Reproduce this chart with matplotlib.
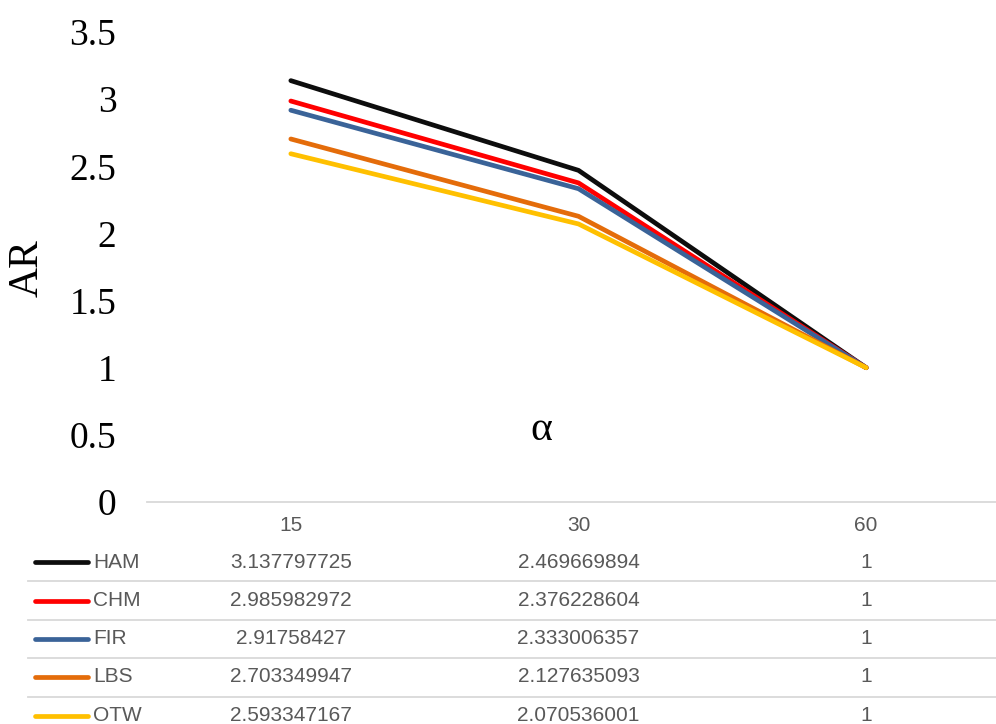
import matplotlib
matplotlib.use("Agg")
import matplotlib.pyplot as plt
from matplotlib.lines import Line2D
import matplotlib.transforms as mtransforms

categories = ["15", "30", "60"]
series_names = ["HAM", "CHM", "FIR", "LBS", "OTW"]
ham = [3.137797725, 2.469669894, 1]
chm = [2.985982972, 2.376228604, 1]
fir = [2.91758427, 2.333006357, 1]
lbs = [2.703349947, 2.127635093, 1]
otw = [2.593347167, 2.070536001, 1]
series_values = [ham, chm, fir, lbs, otw]
colors = ["#0d0d0d", "#ff0000", "#3a6398", "#e46c0a", "#ffc000"]
yticks = [0, 0.5, 1, 1.5, 2, 2.5, 3, 3.5]

W, H = 996, 724
fig = plt.figure(figsize=(W / 100, H / 100), dpi=100)

def fy(px):
    return 1 - px / H

def fx(px):
    return px / W

# axes: x from 147 to 1010 px, y from 502 (0) to 32 (3.5)
ax = fig.add_axes([fx(147), fy(502), fx(1010 - 147), (502 - 32) / H])
ax.set_xlim(-0.5, len(categories) - 0.5)
ax.set_ylim(0, 3.5)
xs = list(range(len(categories)))

# draw in reverse so HAM on top? Excel draws first series first; last (OTW) on top
for name, vals, c in zip(series_names, series_values, colors):
    ax.plot(xs, vals, color=c, lw=3.4, solid_capstyle="round", solid_joinstyle="round")

for s in ["top", "right", "left"]:
    ax.spines[s].set_visible(False)
ax.spines["bottom"].set_color("#d9d9d9")
ax.spines["bottom"].set_linewidth(1.3)

ax.set_yticks(yticks)
ax.set_yticklabels([f"{t:g}" for t in yticks], fontfamily="Liberation Serif", fontsize=27)
ax.tick_params(axis="y", length=0, pad=22)
ax.set_xticks(xs)
ax.set_xticklabels(categories, fontfamily="Liberation Sans", fontsize=15, color="#595959")
ax.tick_params(axis="x", length=0, pad=10)

fig.text(fx(27), fy(268), "AR", rotation=90, ha="center", va="center",
         fontfamily="Liberation Serif", fontsize=30)
fig.text(fx(541), fy(430), "α", ha="center", va="center",
         fontfamily="Liberation Serif", fontsize=30)

# data table
row_centers = [562, 600.5, 639, 677, 715.5]
sep_lines = [581, 620, 658, 697]
for y in sep_lines:
    fig.add_artist(Line2D([fx(28), 1.0], [fy(y), fy(y)], color="#d9d9d9", lw=1.3))

trans = mtransforms.blended_transform_factory(ax.transData, fig.transFigure)
for name, vals, c, yc in zip(series_names, series_values, colors, row_centers):
    fig.add_artist(Line2D([fx(35), fx(88)], [fy(yc), fy(yc)], color=c, lw=3.4,
                          solid_capstyle="round"))
    fig.text(fx(93), fy(yc), name, ha="left", va="center",
             fontfamily="Liberation Sans", fontsize=15, color="#595959")
    for xi, v in zip(xs, vals):
        ax.text(xi, fy(yc), f"{v:.10g}", transform=trans, ha="center", va="center",
                fontfamily="Liberation Sans", fontsize=15, color="#595959", clip_on=False)

fig.savefig("out.png", dpi=100)
